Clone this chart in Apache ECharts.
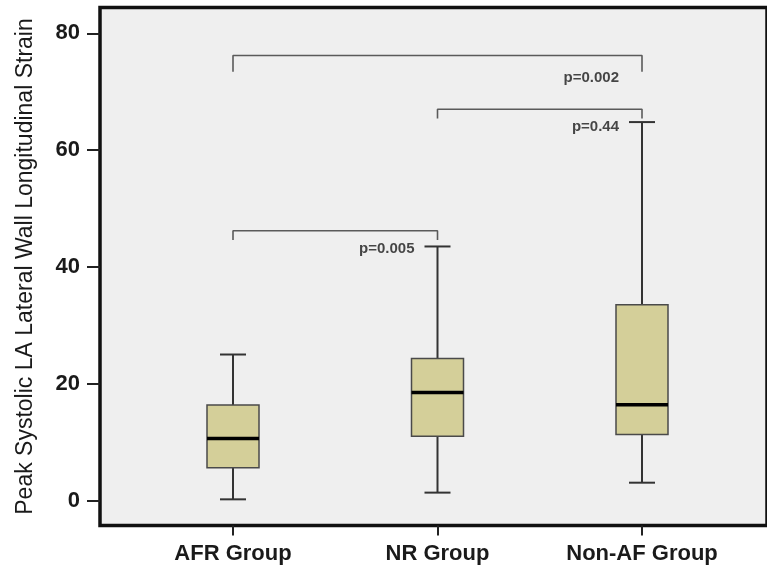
<!DOCTYPE html>
<html>
<head>
<meta charset="utf-8">
<script src="https://cdn.jsdelivr.net/npm/echarts@6/dist/echarts.min.js"></script>
<style>html,body{margin:0;padding:0;background:#fff;}#c{width:767px;height:576px;}</style>
</head>
<body>
<div id="c"></div>
<script>
// Data
var categories = ['AFR Group', 'NR Group', 'Non-AF Group'];
// [min, Q1, median, Q3, max]
var boxValues = [
  [0.2, 5.6, 10.6, 16.35, 25.0],
  [1.35, 11.0, 18.5, 24.3, 43.5],
  [3.05, 11.3, 16.4, 33.5, 64.8]
];
var yTicks = [0, 20, 40, 60, 80];
var yName = 'Peak Systolic LA Lateral Wall Longitudinal Strain';
// brackets: [from category, to category, bar level, end level]
var brackets = [
  ['AFR Group', 'Non-AF Group', 76.2, 73.4],
  ['NR Group', 'Non-AF Group', 67.0, 65.4],
  ['AFR Group', 'NR Group', 46.2, 44.6]
];
// p-value labels: [category of right end, level, text]
var pLabels = [
  ['Non-AF Group', 72.3, 'p=0.002'],
  ['Non-AF Group', 63.9, 'p=0.44'],
  ['NR Group', 43.1, 'p=0.005']
];

var yMin = -4.28, yMax = 84.42;
var font = '"Liberation Sans", Arial, Helvetica, sans-serif';

var chart = echarts.init(document.getElementById('c'), null, {renderer: 'canvas'});

var bracketSeries = brackets.map(function (b) {
  return {
    type: 'line', xAxisIndex: 1, yAxisIndex: 1,
    data: [[b[0], b[3]], [b[0], b[2]], [b[1], b[2]], [b[1], b[3]]],
    symbol: 'none', silent: true,
    lineStyle: {color: '#5a5a5a', width: 1.6},
    z: 3
  };
});

var BOX_HALF = 26, CAP_HALF = 13;

var option = {
  animation: false,
  backgroundColor: '#ffffff',
  grid: [
    {left: 100, right: -4, top: 7.5, bottom: 50.5, show: true, backgroundColor: '#efefef', borderColor: '#111', borderWidth: 3.5},
    {left: 130.75, width: 613.5, top: 7.5, bottom: 50.5}
  ],
  xAxis: [
    {type: 'value', gridIndex: 0, min: 0, max: 1, show: false},
    {type: 'category', gridIndex: 1, data: categories, boundaryGap: true,
      axisLine: {show: false, onZero: false},
      axisTick: {show: true, alignWithLabel: true, length: 10, lineStyle: {color: '#222', width: 2}},
      axisLabel: {fontFamily: font, fontSize: 22, fontWeight: 'bold', color: '#1a1a1a', margin: 17},
      splitLine: {show: false}
    }
  ],
  yAxis: [
    {type: 'value', gridIndex: 0, min: yMin, max: yMax,
      name: yName, nameLocation: 'middle', nameGap: 63, nameRotate: 90,
      nameTextStyle: {fontFamily: font, fontSize: 23, color: '#1a1a1a'},
      axisLine: {show: false},
      axisTick: {show: true, customValues: yTicks, length: 13, lineStyle: {color: '#222', width: 2}},
      axisLabel: {customValues: yTicks, fontFamily: font, fontSize: 22, fontWeight: 'bold', color: '#1a1a1a', margin: 20},
      splitLine: {show: false}
    },
    {type: 'value', gridIndex: 1, min: yMin, max: yMax, show: false}
  ],
  series: [
    {
      type: 'custom', xAxisIndex: 1, yAxisIndex: 1, z: 5,
      data: boxValues.map(function (v, i) { return [i].concat(v); }),
      renderItem: function (params, api) {
        var i = api.value(0);
        var pMin = api.coord([i, api.value(1)]);
        var pQ1 = api.coord([i, api.value(2)]);
        var pMed = api.coord([i, api.value(3)]);
        var pQ3 = api.coord([i, api.value(4)]);
        var pMax = api.coord([i, api.value(5)]);
        var x = pMed[0];
        var ws = {stroke: '#333', lineWidth: 2};
        return {type: 'group', children: [
          {type: 'line', shape: {x1: x, y1: pMax[1], x2: x, y2: pQ3[1]}, style: ws},
          {type: 'line', shape: {x1: x, y1: pQ1[1], x2: x, y2: pMin[1]}, style: ws},
          {type: 'line', shape: {x1: x - CAP_HALF, y1: pMax[1], x2: x + CAP_HALF, y2: pMax[1]}, style: ws},
          {type: 'line', shape: {x1: x - CAP_HALF, y1: pMin[1], x2: x + CAP_HALF, y2: pMin[1]}, style: ws},
          {type: 'rect', shape: {x: x - BOX_HALF, y: pQ3[1], width: 2 * BOX_HALF, height: pQ1[1] - pQ3[1]},
            style: {fill: '#d4cf99', stroke: '#4a4a4a', lineWidth: 1.5}},
          {type: 'line', shape: {x1: x - BOX_HALF, y1: pMed[1], x2: x + BOX_HALF, y2: pMed[1]},
            style: {stroke: '#000', lineWidth: 3.5}}
        ]};
      }
    },
    {
      type: 'scatter', xAxisIndex: 1, yAxisIndex: 1, symbolSize: 0, silent: true,
      data: pLabels.map(function (p) { return {value: [p[0], p[1]], name: p[2]}; }),
      label: {show: true, position: 'left', distance: 23, formatter: '{b}',
        fontFamily: font, fontSize: 15, fontWeight: 'bold', color: '#1a1a1a'},
      z: 6
    }
  ].concat(bracketSeries)
};
chart.setOption(option);
</script>
</body>
</html>
